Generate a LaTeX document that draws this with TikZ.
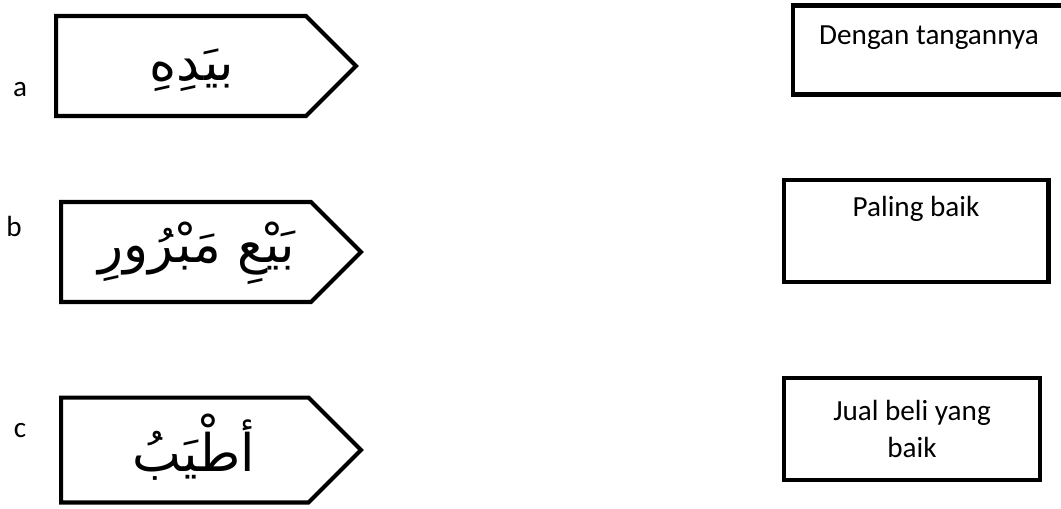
\documentclass[tikz,border=0pt]{standalone}
\usepackage{fontspec}
\setmainfont{Carlito}
\newfontfamily\arabicfont[Script=Arabic]{DejaVu Sans}
\TeXXeTstate=1
\usetikzlibrary{shapes.symbols, positioning}

\begin{document}
\begin{tikzpicture}[
    x=0.02cm, y=-0.02cm,
    question/.style={signal, signal to=east, signal pointer angle=90, draw=black,
                     line width=2.3pt, minimum width=6cm, minimum height=2cm,
                     inner sep=0pt, anchor=west},
    arabic/.style={inner sep=0pt, font=\arabicfont\fontsize{29.5}{34}\selectfont},
    answer/.style={rectangle, draw=black, line width=2.3pt, minimum height=2.04cm,
                   align=center, font=\fontsize{16.6}{21.5}\selectfont},
    letter/.style={font=\fontsize{16.6}{21.5}\selectfont}
]
\useasboundingbox (0,0) rectangle (1061,508);
\clip (0,0) rectangle (1061,508);

% Row a
\node[question] (qa) at (54,66) {};
\node[arabic] (ta) at (192,70) {\beginR بيَدِهِ\endR};
\node[letter] (la) at (20,90) {a};
\node[answer, minimum width=5.44cm, minimum height=1.78cm] (ra) at (929,50) {Dengan tangannya\\[-11pt] \strut};

% Row b
\node[question] (qb) at (59,252) {};
\node[arabic] (tb) at (197,253) {\beginR بَيْعِ مَبْرُورِ\endR};
\node[letter] (lb) at (14,226) {b};
\node[answer, minimum width=5.3cm] (rb) at (916,231) {Paling baik\\ \strut};

% Row c
\node[question, minimum height=2.1cm] (qc) at (59,450) {};
\node[arabic] (tc) at (194,447) {\beginR أطْيَبُ\endR};
\node[letter] (lc) at (20,431) {c};
\node[answer, minimum width=5.12cm] (rc) at (912,429) {Jual beli yang\\baik};

\end{tikzpicture}
\end{document}
